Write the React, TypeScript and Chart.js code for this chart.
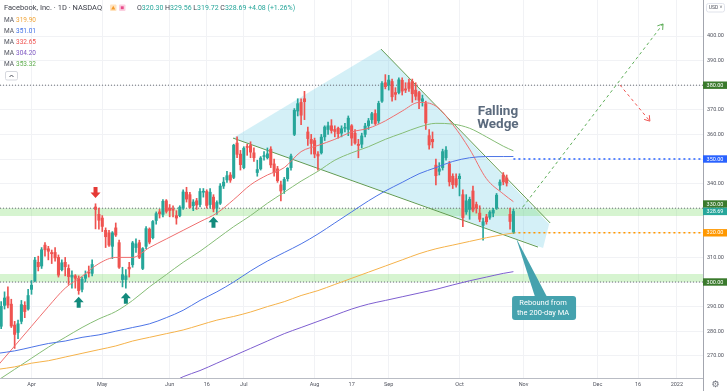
import React, { useEffect, useRef } from 'react';
import { Chart, registerables } from 'chart.js';

Chart.register(...registerables);

// ---------- DATA ----------
const dates = [
  '2021-03-18','2021-03-19','2021-03-22','2021-03-23','2021-03-24','2021-03-25','2021-03-26','2021-03-29','2021-03-30','2021-03-31',
  '2021-04-01','2021-04-05','2021-04-06','2021-04-07','2021-04-08','2021-04-09','2021-04-12','2021-04-13','2021-04-14','2021-04-15',
  '2021-04-16','2021-04-19','2021-04-20','2021-04-21','2021-04-22','2021-04-23','2021-04-26','2021-04-27','2021-04-28','2021-04-29',
  '2021-04-30','2021-05-03','2021-05-04','2021-05-05','2021-05-06','2021-05-07','2021-05-10','2021-05-11','2021-05-12','2021-05-13',
  '2021-05-14','2021-05-17','2021-05-18','2021-05-19','2021-05-20','2021-05-21','2021-05-24','2021-05-25','2021-05-26','2021-05-27',
  '2021-05-28','2021-06-01','2021-06-02','2021-06-03','2021-06-04','2021-06-07','2021-06-08','2021-06-09','2021-06-10','2021-06-11',
  '2021-06-14','2021-06-15','2021-06-16','2021-06-17','2021-06-18','2021-06-21','2021-06-22','2021-06-23','2021-06-24','2021-06-25',
  '2021-06-28','2021-06-29','2021-06-30','2021-07-01','2021-07-02','2021-07-06','2021-07-07','2021-07-08','2021-07-09','2021-07-12',
  '2021-07-13','2021-07-14','2021-07-15','2021-07-16','2021-07-19','2021-07-20','2021-07-21','2021-07-22','2021-07-23','2021-07-26',
  '2021-07-27','2021-07-28','2021-07-29','2021-07-30','2021-08-02','2021-08-03','2021-08-04','2021-08-05','2021-08-06','2021-08-09',
  '2021-08-10','2021-08-11','2021-08-12','2021-08-13','2021-08-16','2021-08-17','2021-08-18','2021-08-19','2021-08-20','2021-08-23',
  '2021-08-24','2021-08-25','2021-08-26','2021-08-27','2021-08-30','2021-08-31','2021-09-01','2021-09-02','2021-09-03','2021-09-07',
  '2021-09-08','2021-09-09','2021-09-10','2021-09-13','2021-09-14','2021-09-15','2021-09-16','2021-09-17','2021-09-20','2021-09-21',
  '2021-09-22','2021-09-23','2021-09-24','2021-09-27','2021-09-28','2021-09-29','2021-09-30','2021-10-01','2021-10-04','2021-10-05',
  '2021-10-06','2021-10-07','2021-10-08','2021-10-11','2021-10-12','2021-10-13','2021-10-14','2021-10-15','2021-10-18','2021-10-19',
  '2021-10-20','2021-10-21','2021-10-22','2021-10-25',
];

const opens = [
  284.0,282.0,290.5,294.0,291.0,282.5,279.5,284.0,290.5,289.0,
  297.0,300.5,308.0,306.5,315.0,313.5,312.0,312.0,310.0,305.0,
  308.0,305.5,302.0,302.5,301.5,297.0,301.5,304.0,303.5,330.5,
  327.5,326.0,321.0,320.0,314.5,322.0,316.0,301.0,301.0,306.0,
  307.0,314.0,316.0,305.5,314.5,321.5,318.0,325.0,328.5,327.5,
  333.0,330.0,329.5,327.0,327.0,330.0,336.5,335.5,331.0,333.0,
  331.5,336.5,336.8,331.5,334.5,330.0,332.0,339.0,341.5,343.5,
  342.5,356.5,352.0,346.5,355.0,355.5,352.5,344.5,346.0,351.0,
  350.5,354.0,348.0,346.0,339.5,337.5,342.0,346.5,360.0,369.5,
  373.0,374.5,361.0,358.0,357.5,352.0,352.5,359.0,362.0,363.5,
  362.0,362.5,360.5,362.5,362.0,363.5,360.5,356.0,356.0,360.0,
  363.5,366.0,368.5,365.5,373.5,381.0,380.0,381.5,377.0,377.0,
  382.0,378.5,381.0,381.5,378.0,377.0,373.5,372.5,359.5,358.0,
  347.5,345.0,346.5,350.5,348.0,343.0,342.0,342.0,335.5,328.5,
  329.5,337.0,331.5,328.0,323.0,326.5,326.3,328.0,330.0,339.3,
  343.5,342.3,327.5,320.3,
];
const highs = [
  286.5,292.0,296.0,298.0,293.0,284.0,284.5,292.5,292.0,297.0,
  300.6,310.0,310.5,314.0,316.0,314.5,313.0,314.0,311.0,309.0,
  310.0,307.0,304.5,303.0,302.5,302.0,304.5,306.5,309.0,331.8,
  330.0,327.0,322.0,321.0,320.5,324.0,317.0,306.0,305.0,308.0,
  316.5,317.5,317.0,314.0,322.5,322.0,325.0,328.5,329.5,333.5,
  333.5,331.5,331.0,329.0,331.0,337.5,338.5,336.5,333.5,334.0,
  338.0,338.0,337.5,338.0,335.5,333.0,340.0,342.5,345.0,344.5,
  356.0,359.0,353.5,355.0,356.0,357.0,354.5,349.5,351.0,353.0,
  354.5,355.0,350.0,347.0,341.0,342.5,346.5,352.0,370.5,374.5,
  374.5,377.5,363.0,360.0,358.5,353.0,360.0,363.5,365.0,366.0,
  363.5,363.0,363.5,364.5,367.5,364.0,362.0,358.0,360.5,364.5,
  366.5,369.0,370.0,373.5,381.5,384.3,384.0,382.5,379.0,383.0,
  383.0,381.0,382.5,382.5,381.0,377.5,376.0,373.5,362.0,361.0,
  350.0,348.5,354.0,355.0,349.0,344.0,344.0,344.0,337.5,335.5,
  334.5,339.0,332.5,331.0,326.0,327.5,329.0,330.0,336.0,341.5,
  344.5,343.5,330.0,329.56,
];
const lows = [
  277.5,281.0,289.0,289.5,281.5,273.0,277.0,283.0,285.5,288.5,
  295.0,300.0,304.5,305.5,310.5,309.0,307.5,308.5,302.0,304.5,
  302.5,299.0,297.5,297.5,295.0,296.0,300.0,302.0,302.5,321.6,
  321.5,320.5,314.0,314.5,309.5,318.5,305.5,298.0,297.5,302.0,
  306.0,312.0,309.5,305.0,313.5,315.5,317.5,323.5,326.0,326.5,
  328.0,326.5,326.5,323.5,326.5,329.5,332.5,330.0,329.0,329.5,
  330.5,334.5,330.0,330.0,328.5,327.5,331.5,338.0,340.5,340.5,
  342.0,350.5,345.5,346.0,351.5,350.5,349.0,343.0,345.5,349.5,
  350.0,346.5,343.0,340.5,333.0,336.0,341.0,345.5,359.5,367.5,
  364.0,366.0,355.5,352.0,350.5,345.5,352.0,357.5,360.0,360.5,
  359.0,358.5,359.0,361.0,359.5,355.5,356.0,350.5,354.5,359.0,
  362.0,364.5,364.0,364.5,373.0,378.5,378.0,373.5,374.0,376.5,
  376.0,377.0,377.5,373.0,374.0,370.5,371.5,362.0,354.0,354.5,
  339.5,343.5,345.5,349.5,339.0,338.0,338.5,335.0,322.5,327.5,
  325.5,328.5,328.0,324.5,317.0,323.5,325.5,326.5,329.5,337.3,
  339.5,339.0,321.5,319.72,
];
const closes = [
  278.6,290.1,293.5,290.6,282.1,278.7,283.0,290.8,288.0,294.5,
  298.7,308.9,306.2,313.1,313.1,312.5,311.5,309.8,302.8,307.8,
  306.2,302.2,302.7,301.5,296.5,301.1,303.0,303.6,307.1,329.5,
  325.1,322.6,318.4,315.0,320.0,319.1,306.0,303.0,302.5,305.3,
  315.9,315.5,310.0,313.6,321.7,316.2,324.6,327.8,327.7,332.8,
  328.7,329.1,329.2,326.0,330.4,336.6,333.7,330.3,332.5,331.3,
  336.8,336.8,331.1,336.5,329.7,332.3,339.0,340.6,343.2,341.4,
  355.6,351.9,347.7,354.4,354.7,352.8,350.5,345.7,350.4,351.2,
  352.1,347.6,344.5,341.2,337.0,341.7,346.2,351.2,369.8,372.5,
  367.8,373.3,358.3,356.3,352.0,351.2,358.9,363.0,363.5,361.6,
  361.2,360.3,362.3,362.7,366.6,358.5,356.5,355.5,359.4,363.4,
  365.5,368.4,364.4,372.6,380.7,379.4,382.1,375.3,376.3,382.2,
  377.6,378.0,378.7,376.5,375.5,373.9,374.5,364.7,355.7,357.0,
  343.2,346.0,353.0,353.6,340.7,339.6,339.4,343.0,326.2,333.0,
  333.6,329.2,330.1,325.5,324.5,324.5,328.4,329.2,335.3,340.6,
  340.7,340.2,324.61,328.69,
];

// moving averages at every 5th bar (bar 0 = 2021-04-01)
const maIndex = [-10,-5,0,5,10,15,20,25,30,35,40,45,50,55,60,65,70,75,80,85,90,95,100,105,110,115,120,125,130,135,140,143];
const maOrange = [264.5,265.5,267,268,269.5,271,272.5,274,276,277.5,279,280.5,282.5,284.5,286,287.8,290,292,294.5,296.5,299,301.5,304,306.5,309,311.5,313.5,315,316.5,318,319.3,319.9];
const maBlue = [271,272,273.5,275,276,277.5,278.5,280,281.5,283,285.5,288.5,292.5,296,300,304.5,308.5,312,315.5,319.5,324,328.5,333,337,340.5,344,346.5,349,350.5,351,351,351.01];
const maRed = [266,274,282,290,297.5,302.3,307.5,310,310,314,317.5,321,324.5,328,333.5,339.5,343.5,346.5,353,355.5,358,361,362.5,365.5,369.5,373,371.5,364,354,342,335.8,332.65];
const maPurple = [null,null,null,null,null,null,null,null,null,null,258,261.5,264,267,270,273,276,279,281.5,284,286.5,289,291,292.5,294,295.5,297,298.8,300.5,302,303.5,304.2];
const maGreen = [260,264.5,269,273.5,277.5,281.5,285,288,292.5,298,303,308,312.5,317.5,322.5,327,332,336.5,341,345,349.5,352.5,355,358,360.5,363,364.5,364.2,362.5,359,355.2,353.32];

// x-axis ticks (bar positions) and labels
const tickIndex = [0, 21, 41, 52, 63, 84, 95, 106, 127, 146, 168, 180, 191.5];
const tickLabels = ['Apr', 'May', 'Jun', '16', 'Jul', 'Aug', '17', 'Sep', 'Oct', 'Nov', 'Dec', '16', '2022'];
const yTicks = [270, 280, 290, 300, 310, 320, 330, 340, 350, 360, 370, 380, 390, 400];

// horizontal levels
const fullLevels = [380, 330, 300];
const partialLevels = [350, 320];
const bandTop = [330, 303.3];
const bandBottom = [326.8, 300];

// wedge drawing (bar index, price)
const wedgeX = [59.8, 103.7, 153.6, 151.8];
const wedgeY = [358.5, 394.7, 323.6, 313.8];
const upperLineX = [103.7, 153.9];
const upperLineY = [394.7, 324.0];
const lowerLineX = [59.8, 150.3];
const lowerLineY = [358.5, 314.2];
const bullPathX = [145.8, 187.4];
const bullPathY = [330.5, 404.9];
const bearPathX = [174.6, 183.5];
const bearPathY = [380.1, 365.4];

// marker arrows
const buyArrowBars = [14, 28, 54];
const buyArrowTips = [294.0, 295.6, 326.5];
const sellArrowBars = [19];
const sellArrowTips = [334.1];

// ---------- STYLE ----------
const UP = '#26a69a';
const DOWN = '#ef5350';
const C_ORANGE = '#f5b24a';
const C_BLUE = '#4d74e6';
const C_RED = '#ef6f6f';
const C_PURPLE = '#7e5fd0';
const C_GREEN = '#86bd76';
const FONT = 'Roboto, "Liberation Sans", sans-serif';

const X0 = 31.5;
const STEP = 3.37;
const X_MIN = -X0 / STEP;
const X_MAX = (703 - X0) / STEP;
const Y_MIN = 300 - 96 / 2.46;
const Y_MAX = 300 + 282 / 2.46;

const firstBar = dates.indexOf('2021-04-01');
const barX = (k: number) => k - firstBar;

function pts(xs: number[], ys: (number | null)[]) {
  return xs.map((x, k) => ({ x, y: ys[k] }));
}

function lineDs(data: any[], color: string, extra: any = {}) {
  return {
    type: 'line',
    data,
    borderColor: color,
    borderWidth: 1,
    pointRadius: 0,
    fill: false,
    spanGaps: true,
    ...extra,
  };
}

function arrowShape(ctx: CanvasRenderingContext2D, cx: number, tip: number, dir: number, color: string) {
  ctx.fillStyle = color;
  ctx.beginPath();
  ctx.moveTo(cx, tip);
  ctx.lineTo(cx + 5, tip + dir * 5.5);
  ctx.lineTo(cx + 2, tip + dir * 5.5);
  ctx.lineTo(cx + 2, tip + dir * 11);
  ctx.lineTo(cx - 2, tip + dir * 11);
  ctx.lineTo(cx - 2, tip + dir * 5.5);
  ctx.lineTo(cx - 5, tip + dir * 5.5);
  ctx.closePath();
  ctx.fill();
}

function roundRect(ctx: CanvasRenderingContext2D, x: number, y: number, w: number, h: number, r: number) {
  ctx.beginPath();
  ctx.moveTo(x + r, y);
  ctx.lineTo(x + w - r, y);
  ctx.quadraticCurveTo(x + w, y, x + w, y + r);
  ctx.lineTo(x + w, y + h - r);
  ctx.quadraticCurveTo(x + w, y + h, x + w - r, y + h);
  ctx.lineTo(x + r, y + h);
  ctx.quadraticCurveTo(x, y + h, x, y + h - r);
  ctx.lineTo(x, y + r);
  ctx.quadraticCurveTo(x, y, x + r, y);
  ctx.closePath();
}

function runs(ctx: CanvasRenderingContext2D, x: number, y: number, parts: [string, string][]) {
  for (const [t, c] of parts) {
    ctx.fillStyle = c;
    ctx.fillText(t, x, y);
    x += ctx.measureText(t).width;
  }
}

const overlayPlugin = {
  id: 'overlay',
  afterDatasetsDraw(chart: any) {
    const { ctx } = chart;
    const xs = chart.scales.x;
    const ys = chart.scales.y;
    const X = (v: number) => xs.getPixelForValue(v);
    const Y = (v: number) => ys.getPixelForValue(v);
    ctx.save();

    // arrow heads of projection lines
    for (const ds of chart.data.datasets) {
      if (!ds.arrowHead) continue;
      const n = ds.data.length;
      const a = ds.data[n - 2];
      const b = ds.data[n - 1];
      const x1 = X(a.x), y1 = Y(a.y), x2 = X(b.x), y2 = Y(b.y);
      const ang = Math.atan2(y2 - y1, x2 - x1);
      ctx.strokeStyle = ds.borderColor;
      ctx.lineWidth = 1;
      ctx.setLineDash([]);
      ctx.beginPath();
      ctx.moveTo(x2 + 6 * Math.cos(ang + 2.55), y2 + 6 * Math.sin(ang + 2.55));
      ctx.lineTo(x2, y2);
      ctx.lineTo(x2 + 6 * Math.cos(ang - 2.55), y2 + 6 * Math.sin(ang - 2.55));
      ctx.stroke();
    }

    // buy / sell arrows
    buyArrowBars.forEach((b, k) => arrowShape(ctx, X(b), Y(buyArrowTips[k]), 1, '#128a7c'));
    sellArrowBars.forEach((b, k) => arrowShape(ctx, X(b), Y(sellArrowTips[k]), -1, '#e53935'));

    // "Falling Wedge"
    ctx.fillStyle = '#5c6b7e';
    ctx.font = `bold 13.5px ${FONT}`;
    ctx.textAlign = 'center';
    ctx.textBaseline = 'middle';
    ctx.fillText('Falling', X(138.4), Y(369.4));
    ctx.fillText('Wedge', X(138.4), Y(364.0));

    // callout
    const tipX = X(143.8), tipY = Y(317.9);
    const bx = X(142.6), by = Y(294.3);
    ctx.fillStyle = '#45a2ae';
    ctx.beginPath();
    ctx.moveTo(tipX, tipY);
    ctx.lineTo(bx + 35, by + 1);
    ctx.lineTo(bx + 23, by + 1);
    ctx.closePath();
    ctx.fill();
    roundRect(ctx, bx, by, 64, 24, 3);
    ctx.fill();
    ctx.fillStyle = '#ffffff';
    ctx.font = `7.5px ${FONT}`;
    ctx.fillText('Rebound from', bx + 31, by + 7.5);
    ctx.fillText('the 200-day MA', bx + 31, by + 17);

    ctx.restore();
  },
  afterDraw(chart: any) {
    const { ctx } = chart;
    const ys = chart.scales.y;
    const Y = (v: number) => ys.getPixelForValue(v);
    ctx.save();

    // axis separator continuing to the bottom
    ctx.strokeStyle = '#a3a6af';
    ctx.lineWidth = 1;
    ctx.beginPath();
    ctx.moveTo(703.5, 378);
    ctx.lineTo(703.5, 391);
    ctx.stroke();

    // price labels
    const last = closes.length - 1;
    const boxes: { v: number; c: string; fixed?: boolean; y?: number }[] = [
      { v: 380, c: '#3a7a2c' },
      { v: 350, c: '#2962ff' },
      { v: 330, c: '#3a7a2c' },
      { v: closes[last], c: UP, fixed: true },
      { v: 320, c: '#ff9800' },
      { v: 300, c: '#3a7a2c' },
    ];
    const H = 7.4;
    boxes.forEach((b) => (b.y = Y(b.v)));
    const cur = boxes.find((b) => b.fixed)!;
    boxes.forEach((b) => {
      if (b.fixed) return;
      const d = b.y! - cur.y!;
      if (Math.abs(d) < H) b.y = cur.y! + (d < 0 ? -H : H);
    });
    ctx.font = `5.5px ${FONT}`;
    ctx.textAlign = 'center';
    ctx.textBaseline = 'middle';
    for (const b of [...boxes.filter((q) => !q.fixed), cur]) {
      ctx.fillStyle = b.c;
      ctx.fillRect(703, b.y! - H / 2, 24, H);
      ctx.fillStyle = '#ffffff';
      ctx.fillText(b.v.toFixed(2), 715, b.y! + 0.3);
    }

    // USD box
    ctx.strokeStyle = '#e0e3eb';
    roundRect(ctx, 706.5, 3.5, 18, 8.5, 2);
    ctx.stroke();
    ctx.fillStyle = '#50535e';
    ctx.font = `5px ${FONT}`;
    ctx.fillText('USD \u02C5', 715.5, 8);

    // gear
    ctx.fillStyle = '#6a6d78';
    ctx.font = `9px "DejaVu Sans"`;
    ctx.fillText('\u2699', 715.5, 384.5);

    // legend
    ctx.textAlign = 'left';
    ctx.font = `7.5px ${FONT}`;
    ctx.fillStyle = '#3b3e48';
    ctx.fillText('Facebook, Inc. \u00B7 1D \u00B7 NASDAQ', 4, 8);
    ctx.fillStyle = '#ffe3bf';
    roundRect(ctx, 110, 4.5, 6.5, 6.5, 1);
    ctx.fill();
    ctx.fillStyle = '#f59b2b';
    ctx.beginPath();
    ctx.moveTo(113.25, 5.8); ctx.lineTo(115.3, 9.6); ctx.lineTo(111.2, 9.6); ctx.closePath(); ctx.fill();
    ctx.fillStyle = '#fbd0e0';
    roundRect(ctx, 119, 4.5, 6.5, 6.5, 1);
    ctx.fill();
    ctx.fillStyle = '#e84b8a';
    ctx.fillRect(120.8, 6.3, 2.9, 2.9);

    const o = opens[last], h = highs[last], l = lows[last], c = closes[last];
    const ch = c - closes[last - 1];
    const pct = (ch / closes[last - 1]) * 100;
    const dk = '#3b3e48';
    ctx.font = `7px ${FONT}`;
    runs(ctx, 137, 8, [
      ['O', dk], [o.toFixed(2), UP], [' H', dk], [h.toFixed(2), UP], [' L', dk], [l.toFixed(2), UP],
      [' C', dk], [c.toFixed(2), UP], [` +${ch.toFixed(2)} (+${pct.toFixed(2)}%)`, UP],
    ]);

    const maRows: [number[], string][] = [
      [maOrange, '#f0a53a'], [maBlue, '#3f6fe6'], [maRed, '#ef5350'], [maPurple as number[], '#7e57c2'], [maGreen, '#5fae4e'],
    ];
    ctx.font = `6.5px ${FONT}`;
    maRows.forEach(([arr, col], k) => {
      const y = 20 + k * 11;
      ctx.fillStyle = '#50535e';
      ctx.fillText('MA', 4, y);
      ctx.fillStyle = col;
      ctx.fillText((arr[arr.length - 1] as number).toFixed(2), 16, y);
    });
    // collapse button
    ctx.strokeStyle = '#d6d8de';
    roundRect(ctx, 5.5, 71.5, 12, 8.5, 1.5);
    ctx.stroke();
    ctx.strokeStyle = '#50535e';
    ctx.beginPath();
    ctx.moveTo(9.5, 77); ctx.lineTo(11.5, 75); ctx.lineTo(13.5, 77);
    ctx.stroke();

    ctx.restore();
  },
};

const noPad = (s: any) => {
  s.paddingTop = 0;
  s.paddingBottom = 0;
  s.paddingLeft = 0;
  s.paddingRight = 0;
};

export default function App() {
  const ref = useRef<HTMLCanvasElement>(null);

  useEffect(() => {
    const canvas = ref.current;
    if (!canvas) return;
    const candleColor = (c: any) => (closes[c.dataIndex] >= opens[c.dataIndex] ? UP : DOWN);

    const datasets: any[] = [
      // MAs on top
      lineDs(pts(maIndex, maOrange), C_ORANGE, { order: -1, cubicInterpolationMode: 'monotone' }),
      lineDs(pts(maIndex, maBlue), C_BLUE, { order: -1, cubicInterpolationMode: 'monotone' }),
      lineDs(pts(maIndex, maRed), C_RED, { order: -1, cubicInterpolationMode: 'monotone' }),
      lineDs(pts(maIndex, maPurple), C_PURPLE, { order: -1, cubicInterpolationMode: 'monotone' }),
      lineDs(pts(maIndex, maGreen), C_GREEN, { order: -1, cubicInterpolationMode: 'monotone' }),
      {
        type: 'bar',
        data: dates.map((_, k) => ({ x: barX(k), y: [opens[k], closes[k]] })),
        backgroundColor: candleColor,
        barThickness: 2.4,
        minBarLength: 1,
        grouped: false,
        borderWidth: 0,
        order: 0,
      },
      {
        type: 'bar',
        data: dates.map((_, k) => ({ x: barX(k), y: [lows[k], highs[k]] })),
        backgroundColor: candleColor,
        barThickness: 1,
        grouped: false,
        borderWidth: 0,
        order: 1,
      },
      // trend lines & projections
      lineDs(pts(upperLineX, upperLineY), '#5f9a52', { order: 2 }),
      lineDs(pts(lowerLineX, lowerLineY), '#5f9a52', { order: 2 }),
      lineDs(pts(bullPathX, bullPathY), '#5fae5a', { order: 2, borderDash: [3, 3], arrowHead: true }),
      lineDs(pts(bearPathX, bearPathY), '#ef5350', { order: 2, borderDash: [3, 3], arrowHead: true }),
      // levels
      ...fullLevels.map((v) =>
        lineDs([{ x: X_MIN, y: v }, { x: X_MAX, y: v }], '#6b6e76', { order: 3, borderDash: [1, 2] })
      ),
      lineDs([{ x: 143, y: partialLevels[0] }, { x: X_MAX, y: partialLevels[0] }], '#2962ff', {
        order: 3, borderDash: [2, 3], borderWidth: 1.5,
      }),
      lineDs([{ x: 143, y: partialLevels[1] }, { x: X_MAX, y: partialLevels[1] }], '#ff9800', {
        order: 3, borderDash: [2, 3], borderWidth: 1.5,
      }),
      // bands
      ...bandTop.map((t, k) =>
        lineDs([{ x: X_MIN, y: t }, { x: X_MAX, y: t }], 'rgba(0,0,0,0)', {
          order: 5, borderWidth: 0, fill: { value: bandBottom[k] }, backgroundColor: 'rgba(120,220,100,0.30)',
        })
      ),
      // wedge shading
      lineDs(pts(wedgeX, wedgeY), 'rgba(0,0,0,0)', {
        order: 6, borderWidth: 0, fill: 'shape', backgroundColor: 'rgba(100,200,228,0.28)',
      }),
    ];

    const chart = new Chart(canvas, {
      type: 'bar',
      data: { datasets },
      plugins: [overlayPlugin],
      options: {
        animation: false,
        responsive: false,
        devicePixelRatio: 1,
        layout: { padding: 0 },
        events: [],
        plugins: { legend: { display: false }, tooltip: { enabled: false } },
        scales: {
          x: {
            type: 'linear',
            min: X_MIN,
            max: X_MAX,
            offset: false,
            grid: { color: '#f1f2f5', drawTicks: false, offset: false },
            border: { color: '#b9bcc4' },
            ticks: {
              autoSkip: false,
              maxRotation: 0,
              padding: 3,
              color: '#50535e',
              font: { size: 5.5, family: FONT },
              callback: (_v: any, i: number) => tickLabels[i] ?? '',
            },
            afterBuildTicks: (s: any) => {
              s.ticks = tickIndex.map((value) => ({ value }));
            },
            afterFit: (s: any) => {
              s.height = 13;
              noPad(s);
            },
          },
          y: {
            type: 'linear',
            position: 'right',
            min: Y_MIN,
            max: Y_MAX,
            beginAtZero: false,
            grid: { color: '#f1f2f5', drawTicks: false },
            border: { color: '#a3a6af' },
            ticks: {
              padding: 4,
              color: '#50535e',
              font: { size: 5.5, family: FONT },
              callback: (v: any) => Number(v).toFixed(2),
            },
            afterBuildTicks: (s: any) => {
              s.ticks = yTicks.map((value) => ({ value }));
            },
            afterFit: (s: any) => {
              s.width = 25;
              noPad(s);
            },
          },
        },
      } as any,
    } as any);

    return () => chart.destroy();
  }, []);

  return (
    <div style={{ position: 'fixed', left: 0, top: 0, width: 728, height: 391, background: '#ffffff' }}>
      <canvas ref={ref} width={728} height={391} style={{ display: 'block', width: 728, height: 391 }} />
    </div>
  );
}
